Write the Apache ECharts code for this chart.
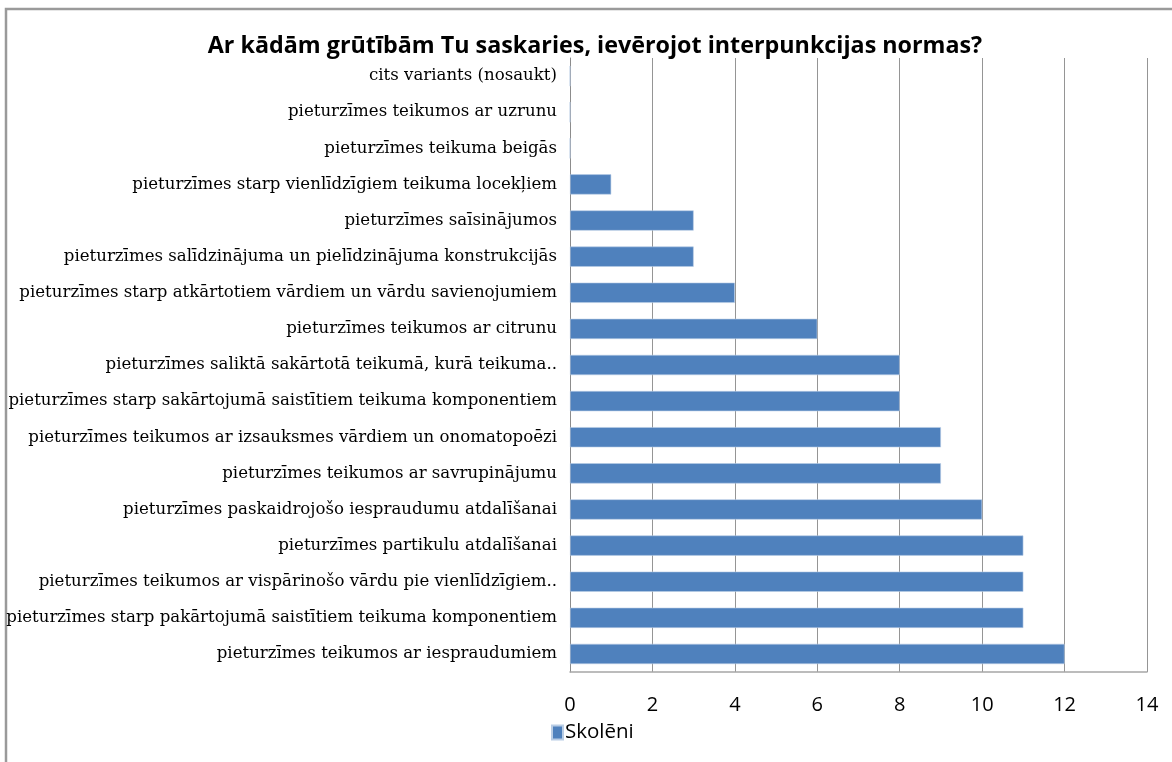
<!DOCTYPE html>
<html>
<head>
<meta charset="utf-8">
<script src="https://cdn.jsdelivr.net/npm/echarts@6/dist/echarts.min.js"></script>
<style>
html,body{margin:0;padding:0;background:#fff;}
#chart{width:1172px;height:762px;}
</style>
</head>
<body>
<div id="chart"></div>
<script>
// Categories listed bottom-to-top (ECharts category axis starts at the bottom)
const categories = [
  "pieturzīmes teikumos ar iespraudumiem",
  "pieturzīmes starp pakārtojumā saistītiem teikuma komponentiem",
  "pieturzīmes teikumos ar vispārinošo vārdu pie vienlīdzīgiem..",
  "pieturzīmes partikulu atdalīšanai",
  "pieturzīmes paskaidrojošo iespraudumu atdalīšanai",
  "pieturzīmes teikumos ar savrupinājumu",
  "pieturzīmes teikumos ar izsauksmes vārdiem un onomatopoēzi",
  "pieturzīmes starp sakārtojumā saistītiem teikuma komponentiem",
  "pieturzīmes saliktā sakārtotā teikumā, kurā teikuma..",
  "pieturzīmes teikumos ar citrunu",
  "pieturzīmes starp atkārtotiem vārdiem un vārdu savienojumiem",
  "pieturzīmes salīdzinājuma un pielīdzinājuma konstrukcijās",
  "pieturzīmes saīsinājumos",
  "pieturzīmes starp vienlīdzīgiem teikuma locekļiem",
  "pieturzīmes teikuma beigās",
  "pieturzīmes teikumos ar uzrunu",
  "cits variants (nosaukt)"
];
const skoleni = [12, 11, 11, 11, 10, 9, 9, 8, 8, 6, 4, 3, 3, 1, 0, 0, 0];
const seriesName = "Skolēni";
const titleText = "Ar kādām grūtībām Tu saskaries, ievērojot interpunkcijas normas?";
const xTicks = { min: 0, max: 14, interval: 2 };

const chart = echarts.init(document.getElementById('chart'), null, {renderer: 'canvas'});
chart.setOption({
  animation: false,
  backgroundColor: '#ffffff',
  title: {
    text: titleText,
    left: 590,
    textAlign: 'center',
    top: 30,
    textStyle: {
      fontFamily: 'Open Sans',
      fontWeight: 'bold',
      fontSize: 23.3,
      color: '#000'
    }
  },
  graphic: [{
    type: 'rect',
    shape: {x: 6, y: 9, width: 1300, height: 900},
    style: {fill: 'none', stroke: '#9a9a9a', lineWidth: 2.5},
    silent: true
  }],
  legend: {
    data: [seriesName],
    left: 546,
    top: 717,
    icon: 'rect',
    itemWidth: 11,
    itemHeight: 14,
    itemGap: 4,
    textStyle: {fontFamily: 'Open Sans', fontSize: 20.5, color: '#000', padding: [0,0,0,-3]}
  },
  grid: {left: 570, right: 25, top: 58, bottom: 90, containLabel: false},
  xAxis: {
    type: 'value',
    min: xTicks.min,
    max: xTicks.max,
    interval: xTicks.interval,
    axisLine: {show: true, lineStyle: {color: '#a6a6a6', width: 1.5}},
    axisTick: {show: false},
    axisLabel: {
      margin: 23,
      fontFamily: 'Open Sans',
      fontSize: 20,
      color: '#000'
    },
    splitLine: {show: true, lineStyle: {color: '#959595', width: 1}}
  },
  yAxis: {
    type: 'category',
    data: categories,
    axisLine: {show: true, lineStyle: {color: '#8c8c8c', width: 1}},
    axisTick: {show: false},
    axisLabel: {
      margin: 13,
      fontFamily: 'DejaVu Serif',
      fontSize: 16.6,
      color: '#000'
    },
    splitLine: {show: false}
  },
  series: [{
    name: seriesName,
    type: 'bar',
    data: skoleni,
    barCategoryGap: '44%',
    itemStyle: {color: '#4f81bd', borderColor: '#b9cde5', borderWidth: 0.6}
  }]
});
</script>
</body>
</html>
